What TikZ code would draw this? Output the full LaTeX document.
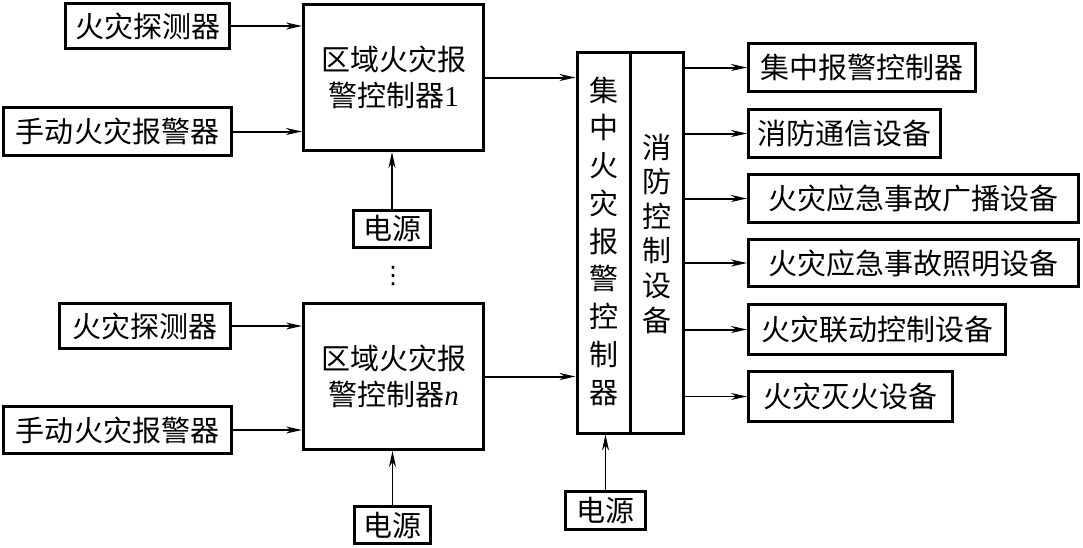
\documentclass[tikz,border=0pt]{standalone}
\usepackage{fontspec}
\setmainfont{Liberation Serif}
\newfontfamily\cjk{Noto Sans CJK SC}
\newfontfamily\dejavu{DejaVu Sans}
\usetikzlibrary{arrows.meta}
\tikzset{
  box/.style={draw, line width=3pt, inner sep=0pt, align=center,
    font=\cjk\fontsize{29}{36}\selectfont},
  frame/.style={draw, line width=3pt, inner sep=0pt},
  vtext/.style={inner sep=0pt, align=center},
  arr/.style={line width=2pt, -{Stealth[length=16pt,width=7pt,inset=5pt]}},
  thinarr/.style={arr, line width=1.4pt},
}
\begin{document}
\begin{tikzpicture}[x=1pt,y=-1pt]
\useasboundingbox (0,0) rectangle (1083,547);
% left upper group
\node[box, minimum width=164, minimum height=45] (d1) at (147.5,26) {火灾探测器};
\node[box, minimum width=228, minimum height=48] (m1) at (117.5,131.5) {手动火灾报警器};
\node[box, minimum width=180, minimum height=146] (r1) at (393.5,77.5) {区域火灾报\\警控制器{\rmfamily 1}};
\node[box, minimum width=77, minimum height=37] (p1) at (392,229) {电源};
\node[inner sep=0pt, font=\dejavu\fontsize{24}{24}\selectfont] (dots) at (393,276) {⋮};
% left lower group
\node[box, minimum width=171, minimum height=45] (d2) at (145,326) {火灾探测器};
\node[box, minimum width=228, minimum height=47] (m2) at (117.5,430) {手动火灾报警器};
\node[box, minimum width=180, minimum height=146] (rn) at (393.5,376.5) {区域火灾报\\警控制器{\rmfamily\itshape n}};
\node[box, minimum width=76, minimum height=37] (pn) at (392.5,525) {电源};
% central controller
\node[frame, minimum width=53, minimum height=381] (cl) at (603.5,242.5) {};
\node[frame, minimum width=53, minimum height=381] (cr) at (656.5,242.5) {};
\node[vtext, font=\cjk\fontsize{29}{37.75}\selectfont] (cltext) at (603.5,241)
  {集\\中\\火\\灾\\报\\警\\控\\制\\器};
\node[vtext, font=\cjk\fontsize{29}{34.6}\selectfont] (crtext) at (656.5,233.5)
  {消\\防\\控\\制\\设\\备};
\node[box, minimum width=80, minimum height=38] (pc) at (605.5,510.5) {电源};
% outputs
\node[box, minimum width=227, minimum height=48] (o1) at (862,67.5) {集中报警控制器};
\node[box, minimum width=192, minimum height=48] (o2) at (844.5,133.5) {消防通信设备};
\node[box, minimum width=330, minimum height=48] (o3) at (913.5,198.5) {火灾应急事故广播设备};
\node[box, minimum width=330, minimum height=47] (o4) at (913.5,263) {火灾应急事故照明设备};
\node[box, minimum width=257, minimum height=50] (o5) at (877,329.5) {火灾联动控制设备};
\node[box, minimum width=204, minimum height=50] (o6) at (850.5,396.5) {火灾灭火设备};
% connectors
\draw[arr] (d1.east) -- (r1.west |- d1.east);
\draw[arr] (m1.east) -- (r1.west |- m1.east);
\draw[arr] (p1.north) -- (p1.north |- r1.south);
\draw[arr] (r1.east) -- (cl.west |- r1.east);
\draw[arr] (d2.east) -- (rn.west |- d2.east);
\draw[arr] (m2.east) -- (rn.west |- m2.east);
\draw[thinarr] (pn.north) -- (pn.north |- rn.south);
\draw[arr] (rn.east) -- (cl.west |- rn.east);
\draw[thinarr] (pc.north) -- (pc.north |- cl.south);
\draw[arr] (cr.east |- o1.west) -- (o1.west);
\draw[arr] (cr.east |- o2.west) -- (o2.west);
\draw[arr] (cr.east |- o3.west) -- (o3.west);
\draw[arr] (cr.east |- o4.west) -- (o4.west);
\draw[arr] (cr.east |- o5.west) -- (o5.west);
\draw[thinarr] (cr.east |- o6.west) -- (o6.west);
\end{tikzpicture}
\end{document}
